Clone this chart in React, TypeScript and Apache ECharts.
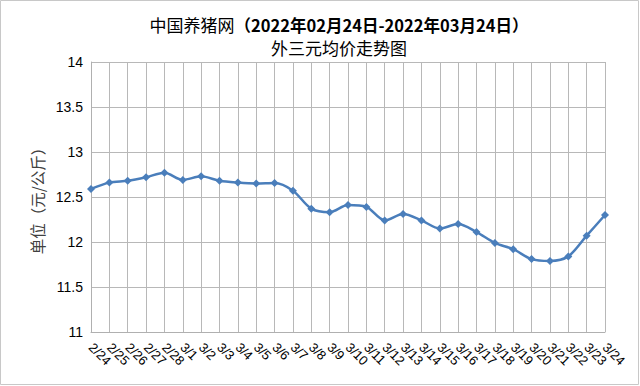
import React, { useEffect, useRef } from "react";
import * as echarts from "echarts";

const categories = [
  "2/24", "2/25", "2/26", "2/27", "2/28",
  "3/1", "3/2", "3/3", "3/4", "3/5", "3/6", "3/7", "3/8", "3/9", "3/10",
  "3/11", "3/12", "3/13", "3/14", "3/15", "3/16", "3/17", "3/18", "3/19",
  "3/20", "3/21", "3/22", "3/23", "3/24",
];
const prices = [
  12.59, 12.66, 12.68, 12.72, 12.77,
  12.69, 12.73, 12.68, 12.66, 12.65, 12.655, 12.57, 12.37, 12.33, 12.41,
  12.39, 12.24, 12.31, 12.24, 12.15, 12.2, 12.11, 11.99, 11.92,
  11.81, 11.79, 11.84, 12.07, 12.3,
];
const yTicks = [11, 11.5, 12, 12.5, 13, 13.5, 14];

const titleLine1Prefix = "中国养猪网";
const titleLine1Suffix = "（2022年02月24日-2022年03月24日）";
const titleLine2 = "外三元均价走势图";
const yAxisName = "单位（元/公斤）";

export default function App() {
  const ref = useRef<HTMLDivElement>(null);
  useEffect(() => {
    if (!ref.current) return;
    const chart = echarts.init(ref.current, undefined, { renderer: "svg" });
    const font = "'Noto Sans CJK SC', 'Liberation Sans', sans-serif";
    chart.setOption({
      animation: false,
      backgroundColor: "#ffffff",
      textStyle: { fontFamily: font },
      title: {
        text: `{a|${titleLine1Prefix}}{b|${titleLine1Suffix}}\n{c|${titleLine2}}`,
        left: 334,
        textAlign: "center",
        top: 8,
        textStyle: {
          fontWeight: "normal",
          rich: {
            a: { fontSize: 17, color: "#000", fontFamily: font, fontWeight: "normal", lineHeight: 23 },
            b: { fontSize: 16.5, color: "#000", fontFamily: font, fontWeight: "bold", lineHeight: 23 },
            c: { fontSize: 17, color: "#000", fontFamily: font, fontWeight: "normal", lineHeight: 23 },
          },
        },
      },
      graphic: [
        {
          type: "rect",
          shape: { x: 0.5, y: 0.5, width: 638, height: 384 },
          style: { fill: "none", stroke: "#c8c8c8", lineWidth: 1 },
          silent: true,
        },
      ],
      grid: { left: 91, right: 35, top: 62, bottom: 54 },
      xAxis: {
        type: "category",
        data: categories,
        boundaryGap: false,
        axisLine: { show: true, lineStyle: { color: "#b0b0b0" } },
        axisTick: { show: false },
        splitLine: { show: true, lineStyle: { color: "#b8b8b8", width: 1 } },
        axisLabel: {
          rotate: -45,
          interval: 0,
          color: "#000",
          fontSize: 13,
          fontFamily: "'Liberation Sans', sans-serif",
          margin: 13,
        },
      },
      yAxis: {
        type: "value",
        min: 11,
        max: 14,
        interval: 0.5,
        name: yAxisName,
        nameLocation: "middle",
        nameGap: 46,
        nameRotate: 90,
        nameTextStyle: { fontSize: 15.5, color: "#404040", fontFamily: font },
        axisLine: { show: true, lineStyle: { color: "#b0b0b0" } },
        axisTick: { show: false },
        splitLine: { show: true, lineStyle: { color: "#b8b8b8", width: 1 } },
        axisLabel: {
          color: "#000",
          fontSize: 14,
          fontFamily: "'Liberation Sans', sans-serif",
          margin: 8,
          formatter: (v: number) => (yTicks.includes(v) ? String(v) : ""),
        },
      },
      series: [
        {
          type: "line",
          data: prices,
          smooth: 0.3,
          symbol: "diamond",
          symbolSize: 8,
          lineStyle: { color: "#4a7ebb", width: 2.5 },
          itemStyle: { color: "#4a7ebb" },
        },
      ],
    });
    return () => chart.dispose();
  }, []);
  return (
    <div
      ref={ref}
      style={{ position: "fixed", left: 0, top: 0, width: 640, height: 386 }}
    />
  );
}
